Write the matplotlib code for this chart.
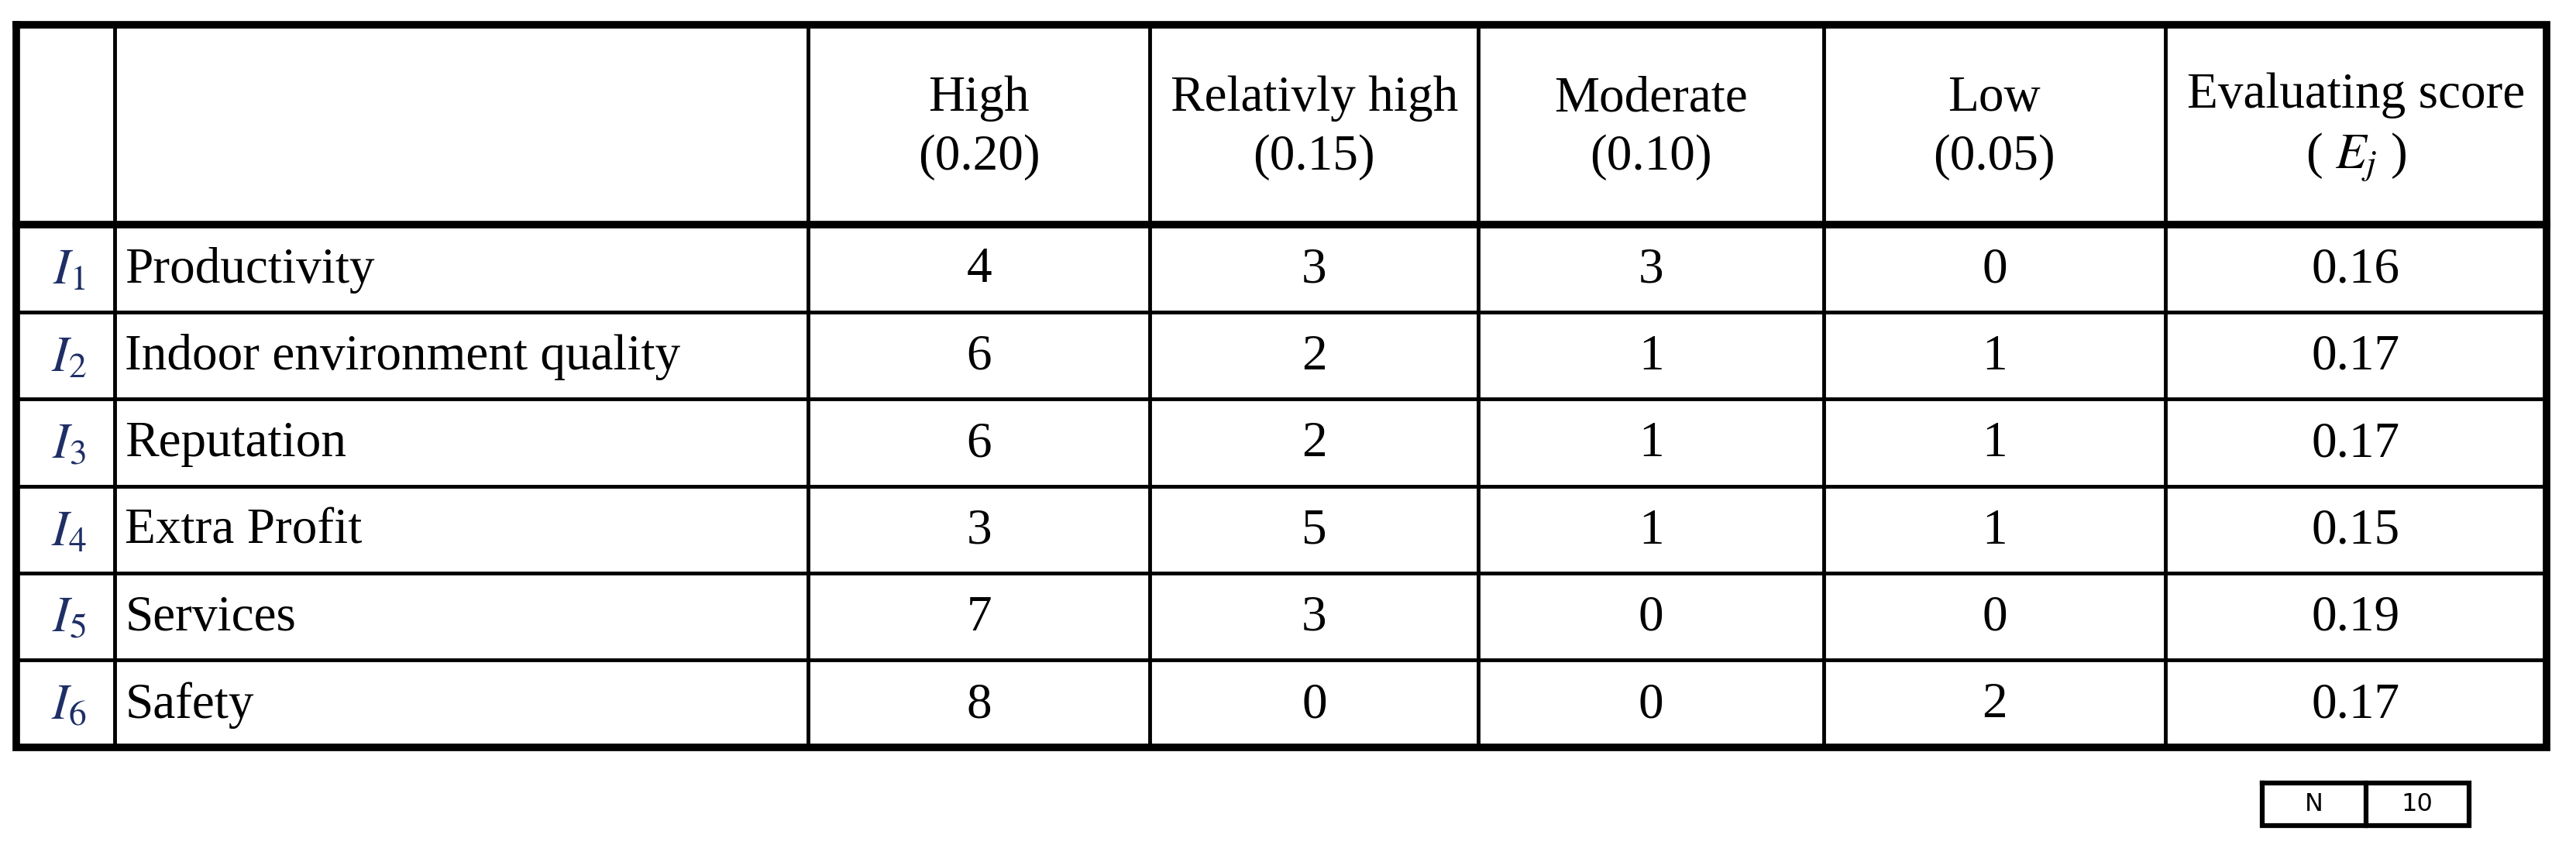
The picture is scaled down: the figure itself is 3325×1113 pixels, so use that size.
import matplotlib
matplotlib.use("Agg")
import matplotlib.pyplot as plt

plt.rcParams['mathtext.fontset'] = 'stix'

indicators = ["Productivity", "Indoor environment quality", "Reputation",
              "Extra Profit", "Services", "Safety"]
col_headers = ["High\n(0.20)", "Relativly high\n(0.15)", "Moderate\n(0.10)",
               "Low\n(0.05)", "Evaluating score\n( $E_j$ )"]
high = [4, 6, 6, 3, 7, 8]
rel_high = [3, 2, 2, 5, 3, 0]
moderate = [3, 1, 1, 1, 0, 0]
low = [0, 1, 1, 1, 0, 2]
score = [0.16, 0.17, 0.17, 0.15, 0.19, 0.17]
n_label = "N"
n_value = 10

W, H = 1568, 525
fig = plt.figure(figsize=(33.25, 11.13), dpi=100)
ax = fig.add_axes([0, 0, 1, 1])
ax.set_xlim(0, W)
ax.set_ylim(H, 0)
ax.axis('off')

xs = [10, 70, 492, 700, 900, 1110, 1318, 1550]
top, hb = 15, 137
rh = 53
ys = [hb + i * rh for i in range(7)]
bottom = ys[-1]

thick, thin = 7, 3.5
ax.plot([xs[0], xs[-1], xs[-1], xs[0], xs[0]], [top, top, bottom, bottom, top],
        color='black', lw=thick, solid_joinstyle='miter')
ax.plot([xs[0], xs[-1]], [hb, hb], color='black', lw=thick)
for y in ys[1:-1]:
    ax.plot([xs[0], xs[-1]], [y, y], color='black', lw=thin)
for x in xs[1:-1]:
    ax.plot([x, x], [top, bottom], color='black', lw=thin)

fs = 47
tf = dict(family='Liberation Serif', fontsize=fs, color='black')
for j, h in enumerate(col_headers):
    cx = (xs[j + 2] + xs[j + 3]) / 2
    ax.text(cx, (top + hb) / 2 + 2, h, ha='center', va='center', linespacing=1.35, **tf)

cols = [high, rel_high, moderate, low]
for i, name in enumerate(indicators):
    cy = (ys[i] + ys[i + 1]) / 2 + 1
    ax.text((xs[0] + xs[1]) / 2 + 2, cy, f"$I_{i+1}$", ha='center', va='center',
            fontsize=fs, color='#1f2f66')
    ax.text(xs[1] + 6, cy, name, ha='left', va='center', **tf)
    for j, c in enumerate(cols):
        ax.text((xs[j + 2] + xs[j + 3]) / 2, cy, str(c[i]), ha='center', va='center', **tf)
    ax.text((xs[6] + xs[7]) / 2, cy, f"{score[i]:.2f}", ha='center', va='center', **tf)

bx = [1377, 1440, 1503]
by = [477, 503]
ax.plot([bx[0], bx[2], bx[2], bx[0], bx[0]], [by[0], by[0], by[1], by[1], by[0]],
        color='black', lw=4.5, solid_joinstyle='miter')
ax.plot([bx[1], bx[1]], by, color='black', lw=4.5)
nf = dict(family='DejaVu Sans', fontsize=23, color='black', ha='center', va='center')
ax.text((bx[0] + bx[1]) / 2, (by[0] + by[1]) / 2, n_label, **nf)
ax.text((bx[1] + bx[2]) / 2, (by[0] + by[1]) / 2, str(n_value), **nf)

fig.savefig("out.png", dpi=100)
